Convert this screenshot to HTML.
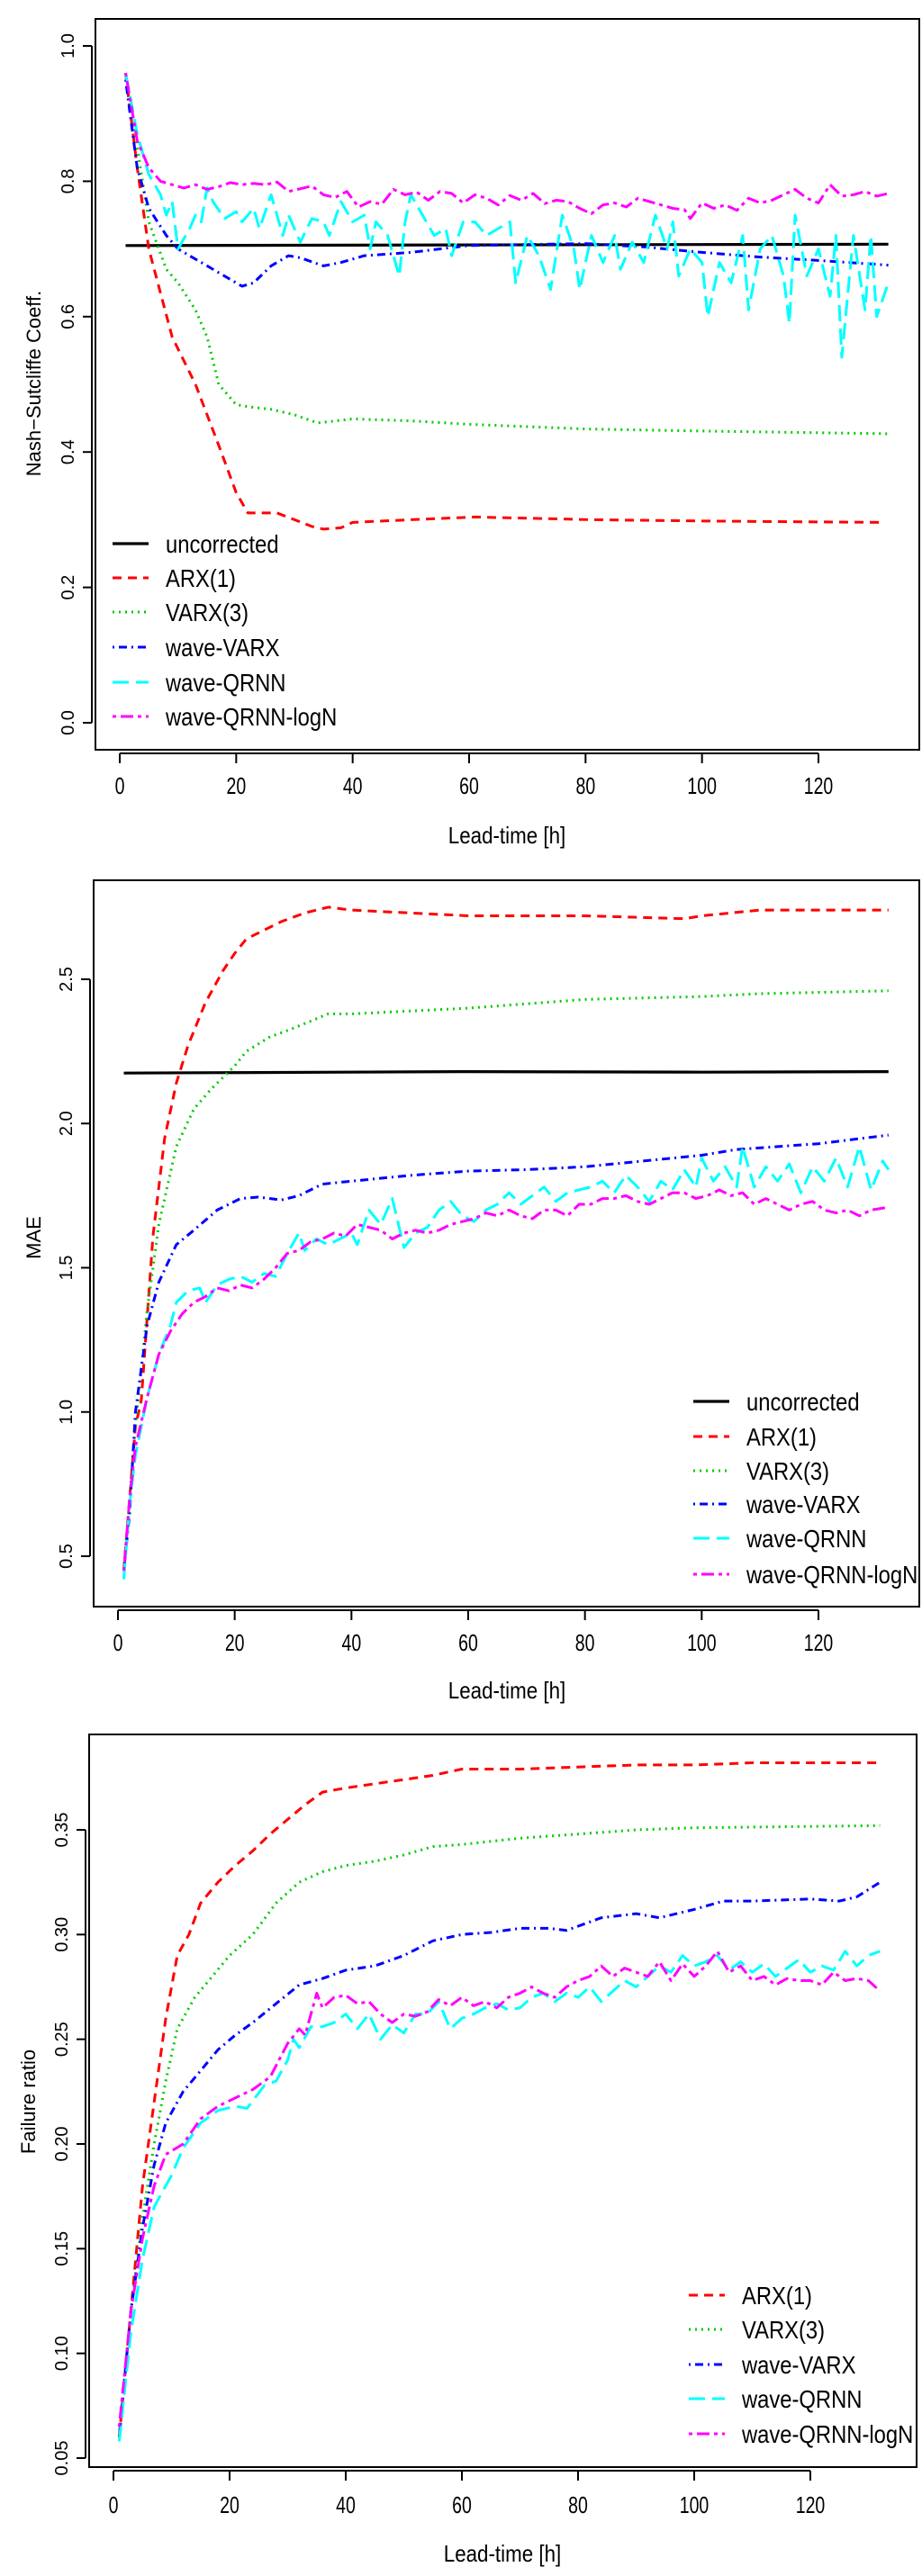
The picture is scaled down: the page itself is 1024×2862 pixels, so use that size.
<!DOCTYPE html>
<html><head><meta charset="utf-8"><style>
html,body{margin:0;padding:0;background:#fff;}
svg{display:block;}
.tk{font-family:"Liberation Sans",sans-serif;font-size:20px;fill:#000;}
.xt{font-family:"Liberation Sans Narrow","Liberation Sans",sans-serif;font-size:26px;fill:#000;}
.lg{font-family:"Liberation Sans Narrow","Liberation Sans",sans-serif;font-size:28px;fill:#000;}
.yl{font-family:"Liberation Sans",sans-serif;font-size:22px;fill:#000;}
</style></head><body>
<svg id="fig" width="1024" height="2862" viewBox="0 0 1024 2862" xmlns="http://www.w3.org/2000/svg"></svg>
<script>
// ---------- Panel 1: Nash-Sutcliffe ----------
const nseUncLead=[1,132], nseUncVal=[0.705,0.707];
const nseArxLead=[1,3,5,9,13,17,20,22,24,27,30,33,35,38,40,50,61,81,101,131];
const nseArxVal=[0.96,0.82,0.70,0.57,0.50,0.41,0.34,0.31,0.31,0.31,0.30,0.29,0.286,0.288,0.296,0.30,0.304,0.30,0.298,0.296];
const nseVarxLead=[1,5,8,10,13,15,17,20,22,26,30,34,40,50,60,80,100,132];
const nseVarxVal=[0.96,0.74,0.67,0.65,0.61,0.57,0.50,0.47,0.467,0.463,0.455,0.443,0.449,0.446,0.441,0.434,0.431,0.427];
const nseWvLead=[1,3,5,8,10,14,18,21,23,26,29,31,35,38,42,50,60,80,90,100,110,120,132];
const nseWvVal=[0.95,0.82,0.76,0.72,0.70,0.68,0.66,0.645,0.65,0.675,0.69,0.687,0.675,0.68,0.69,0.695,0.705,0.708,0.703,0.695,0.688,0.683,0.676];
const nseQLead=[1,3,5,7,8,9,10,12,13,14,15,16,18,20,21,23,24,26,28,29,31,33,35,36,38,40,42,43,44,46,48,49,50,52,54,56,57,59,61,63,65,67,68,70,72,74,76,78,79,81,83,85,86,88,90,92,94,95,96,98,100,101,103,105,107,108,110,112,114,115,116,118,120,122,123,124,126,128,129,130,132];
const nseQVal=[0.96,0.87,0.81,0.78,0.75,0.77,0.70,0.73,0.75,0.74,0.79,0.77,0.745,0.755,0.74,0.76,0.73,0.78,0.72,0.75,0.71,0.745,0.74,0.72,0.77,0.74,0.75,0.70,0.74,0.72,0.66,0.74,0.78,0.75,0.72,0.73,0.69,0.74,0.74,0.72,0.73,0.74,0.65,0.72,0.69,0.64,0.75,0.70,0.64,0.72,0.68,0.72,0.67,0.71,0.68,0.75,0.70,0.74,0.66,0.70,0.68,0.60,0.68,0.65,0.72,0.61,0.70,0.72,0.66,0.59,0.75,0.66,0.70,0.63,0.72,0.54,0.72,0.61,0.72,0.60,0.65];
const nseLLead=[1,3,5,7,9,11,13,15,17,19,21,23,25,27,29,31,33,35,37,39,41,43,45,47,49,51,53,55,57,59,61,63,65,67,69,71,73,75,77,79,81,83,85,87,89,91,93,95,97,98,100,102,104,106,108,110,112,114,116,118,120,122,124,126,128,130,132];
const nseLVal=[0.96,0.86,0.82,0.80,0.795,0.79,0.795,0.788,0.792,0.798,0.795,0.797,0.795,0.799,0.785,0.789,0.793,0.78,0.776,0.785,0.762,0.77,0.766,0.788,0.78,0.784,0.772,0.785,0.782,0.768,0.78,0.775,0.765,0.779,0.772,0.782,0.767,0.772,0.77,0.76,0.752,0.765,0.768,0.762,0.775,0.77,0.765,0.76,0.758,0.745,0.768,0.76,0.765,0.757,0.775,0.768,0.772,0.78,0.788,0.775,0.768,0.795,0.778,0.78,0.785,0.778,0.782];
const nseTicks=[0.0,0.2,0.4,0.6,0.8,1.0];
const nseTickLabels=["0.0","0.2","0.4","0.6","0.8","1.0"];

// ---------- Panel 2: MAE ----------
const maeUncLead=[1,60,100,132], maeUncVal=[2.175,2.18,2.178,2.18];
const maeArxLead=[1,2,3,4,6,8,10,12,15,18,20,22,25,28,32,36,40,50,60,80,97,100,110,132];
const maeArxVal=[0.45,0.7,0.95,1.04,1.61,1.95,2.14,2.27,2.42,2.53,2.59,2.64,2.67,2.70,2.73,2.75,2.74,2.73,2.72,2.72,2.71,2.72,2.74,2.74];
const maeVarxLead=[1,3,5,7,10,13,16,20,22,26,30,36,40,60,80,100,110,132];
const maeVarxVal=[0.45,0.95,1.35,1.65,1.92,2.05,2.12,2.2,2.25,2.30,2.33,2.38,2.38,2.40,2.43,2.44,2.45,2.46];
const maeWvLead=[1,2,3,5,7,10,13,17,21,24,28,31,35,40,50,60,70,80,90,100,106,120,132];
const maeWvVal=[0.45,0.65,1.0,1.3,1.45,1.58,1.63,1.7,1.74,1.745,1.735,1.75,1.79,1.80,1.82,1.835,1.84,1.85,1.87,1.89,1.91,1.93,1.96];
const maeQLead=[1,2,3,5,7,9,10,12,14,15,17,19,21,23,25,27,29,31,32,34,36,38,40,41,43,45,47,49,51,53,55,57,59,61,63,65,67,69,71,73,75,77,79,81,83,85,87,89,91,93,95,97,99,100,102,104,106,107,109,111,113,115,117,119,121,123,125,127,129,131,132];
const maeQVal=[0.42,0.68,0.85,1.05,1.2,1.3,1.38,1.42,1.43,1.38,1.44,1.46,1.47,1.45,1.48,1.47,1.55,1.62,1.56,1.6,1.58,1.6,1.62,1.58,1.7,1.65,1.74,1.57,1.62,1.64,1.7,1.73,1.68,1.66,1.7,1.72,1.76,1.72,1.75,1.78,1.73,1.76,1.77,1.78,1.8,1.76,1.82,1.78,1.73,1.8,1.77,1.84,1.78,1.88,1.8,1.85,1.78,1.92,1.78,1.85,1.8,1.86,1.76,1.85,1.8,1.88,1.78,1.92,1.77,1.87,1.84];
const maeLLead=[1,2,3,5,7,9,11,13,15,17,19,21,23,25,27,29,31,33,35,37,39,41,43,45,47,49,51,53,55,57,59,61,63,65,67,69,71,73,75,77,79,81,83,85,87,89,91,93,95,97,99,101,103,105,107,109,111,113,115,117,119,121,123,125,127,129,132];
const maeLVal=[0.45,0.7,0.88,1.05,1.2,1.28,1.34,1.38,1.4,1.43,1.42,1.44,1.43,1.46,1.5,1.55,1.56,1.59,1.6,1.62,1.61,1.65,1.64,1.63,1.6,1.62,1.63,1.62,1.63,1.65,1.66,1.67,1.69,1.68,1.7,1.68,1.67,1.7,1.7,1.68,1.72,1.72,1.74,1.74,1.75,1.73,1.72,1.74,1.76,1.76,1.74,1.75,1.77,1.75,1.76,1.72,1.74,1.72,1.7,1.72,1.73,1.7,1.69,1.7,1.68,1.7,1.71];
const maeTicks=[0.5,1.0,1.5,2.0,2.5];
const maeTickLabels=["0.5","1.0","1.5","2.0","2.5"];

// ---------- Panel 3: Failure ratio ----------
const frArxLead=[1,3,5,7,9,11,13,15,18,21,24,27,30,33,36,40,45,50,55,60,70,80,90,100,110,132];
const frArxVal=[0.06,0.12,0.18,0.22,0.26,0.29,0.30,0.315,0.325,0.333,0.34,0.348,0.355,0.362,0.368,0.37,0.372,0.374,0.376,0.379,0.379,0.38,0.381,0.381,0.382,0.382];
const frVarxLead=[1,3,5,7,9,11,14,17,20,24,28,32,36,40,45,50,55,60,70,80,90,100,132];
const frVarxVal=[0.06,0.12,0.165,0.2,0.23,0.255,0.27,0.28,0.29,0.30,0.315,0.325,0.33,0.333,0.335,0.338,0.342,0.343,0.346,0.348,0.35,0.351,0.352];
const frWvLead=[1,3,5,7,9,12,15,18,21,24,28,32,36,40,45,50,55,60,65,70,75,78,84,90,94,100,105,110,120,125,128,132];
const frWvVal=[0.06,0.12,0.16,0.19,0.21,0.225,0.235,0.245,0.252,0.258,0.267,0.276,0.279,0.283,0.285,0.29,0.297,0.30,0.301,0.303,0.303,0.302,0.308,0.31,0.308,0.312,0.316,0.316,0.317,0.316,0.318,0.325];
const frQLead=[1,3,5,7,10,12,15,18,21,23,26,28,30,31,32,34,36,38,40,42,44,46,48,50,52,54,56,58,60,62,64,66,68,70,72,74,76,78,80,82,84,86,88,90,92,94,96,98,100,102,104,106,108,110,112,114,116,118,120,122,124,126,128,130,132];
const frQVal=[0.058,0.11,0.145,0.17,0.185,0.198,0.21,0.216,0.218,0.217,0.228,0.23,0.24,0.25,0.246,0.256,0.256,0.258,0.262,0.255,0.262,0.25,0.257,0.253,0.262,0.262,0.268,0.255,0.26,0.262,0.265,0.267,0.264,0.265,0.27,0.272,0.268,0.272,0.27,0.275,0.268,0.273,0.278,0.275,0.28,0.285,0.282,0.29,0.285,0.287,0.29,0.283,0.287,0.282,0.286,0.28,0.284,0.288,0.282,0.285,0.283,0.292,0.285,0.29,0.292];
const frLLead=[1,3,5,7,9,12,15,18,21,24,27,30,32,33,35,36,38,40,42,44,46,48,50,52,54,56,58,60,62,64,66,68,70,72,74,76,78,80,82,84,86,88,90,92,94,96,98,100,102,104,106,108,110,112,114,116,118,120,122,124,126,128,130,132];
const frLVal=[0.065,0.12,0.155,0.18,0.195,0.2,0.212,0.218,0.222,0.226,0.232,0.248,0.255,0.252,0.272,0.265,0.27,0.271,0.267,0.268,0.262,0.258,0.262,0.261,0.263,0.269,0.266,0.27,0.266,0.268,0.265,0.27,0.272,0.275,0.272,0.27,0.275,0.278,0.28,0.285,0.28,0.284,0.282,0.28,0.287,0.278,0.286,0.28,0.285,0.292,0.282,0.285,0.278,0.28,0.276,0.279,0.278,0.278,0.276,0.282,0.278,0.279,0.278,0.273];
const frTicks=[0.05,0.10,0.15,0.20,0.25,0.30,0.35];
const frTickLabels=["0.05","0.10","0.15","0.20","0.25","0.30","0.35"];

const xTicks=[0,20,40,60,80,100,120];
const xTickLabels=["0","20","40","60","80","100","120"];

const NS="http://www.w3.org/2000/svg";
const svg=document.getElementById('fig');
function mk(tag,attrs,parent){const e=document.createElementNS(NS,tag);for(const k in attrs)e.setAttribute(k,attrs[k]);(parent||svg).appendChild(e);return e;}

const STY={
 unc:{c:'#000',d:'none',w:3.2,name:'uncorrected'},
 arx:{c:'#ff0000',d:'10,7',w:3,name:'ARX(1)'},
 varx:{c:'#00cc00',d:'2,5',w:3,name:'VARX(3)'},
 wv:{c:'#0000ff',d:'2,5,9,5',w:3,name:'wave-VARX'},
 q:{c:'#00ffff',d:'18,8',w:3,name:'wave-QRNN'},
 l:{c:'#ff00ff',d:'4,5,14,5',w:3,name:'wave-QRNN-logN'}
};

function panel(cfg){
 const g=mk('g',{});
 
 
 const X=v=>cfg.x0+(v-0)*(cfg.x120-cfg.x0)/120;
 const Y=v=>cfg.ya+(v-cfg.va)*(cfg.yb-cfg.ya)/(cfg.vb-cfg.va);
 const box=mk('rect',{x:cfg.L,y:cfg.T,width:cfg.R-cfg.L,height:cfg.B-cfg.T,fill:'none',stroke:'#000','stroke-width':2},g);
 
 
 const xa=mk('g',{},g);
 
 
 mk('line',{x1:X(0),x2:X(120),y1:cfg.B+4,y2:cfg.B+4,stroke:'#000','stroke-width':2},xa);
 xTicks.forEach((t,i)=>{
  mk('line',{x1:X(t),x2:X(t),y1:cfg.B+4,y2:cfg.B+15,stroke:'#000','stroke-width':2},xa);
  const tx=mk('text',{x:X(t),y:cfg.xtY,'text-anchor':'middle',class:'xt',transform:`translate(${X(t)},0) scale(0.75,1) translate(${-X(t)},0)`},xa);
  tx.textContent=xTickLabels[i];
  
  
 });
 const xl=mk('text',{x:cfg.xlX,y:cfg.xlY,'text-anchor':'middle',class:'xt',transform:`translate(${cfg.xlX},0) scale(0.86,1) translate(${-cfg.xlX},0)`},g);
 xl.textContent='Lead-time [h]';
 
 
 const ya=mk('g',{},g);
 
 
 mk('line',{x1:cfg.L-4,x2:cfg.L-4,y1:Y(cfg.ticks[0]),y2:Y(cfg.ticks[cfg.ticks.length-1]),stroke:'#000','stroke-width':2},ya);
 cfg.ticks.forEach((t,i)=>{
  mk('line',{x1:cfg.L-4,x2:cfg.L-14,y1:Y(t),y2:Y(t),stroke:'#000','stroke-width':2},ya);
  const tx=mk('text',{x:cfg.L-24,y:Y(t),'text-anchor':'middle',class:'tk',transform:`rotate(-90 ${cfg.L-24} ${Y(t)})`},ya);
  tx.textContent=cfg.tickLabels[i];
  
  
 });
 const yt=mk('text',{x:cfg.ylX,y:cfg.ylY,'text-anchor':'middle',class:'yl',transform:`rotate(-90 ${cfg.ylX} ${cfg.ylY})`},g);
 yt.textContent=cfg.ytitle;
 
 
 cfg.series.forEach(s=>{
  const st=STY[s.k];
  const d=s.lead.map((t,i)=>(i?'L':'M')+X(t).toFixed(1)+','+Y(s.val[i]).toFixed(1)).join(' ');
  const p=mk('path',{d:d,fill:'none',stroke:st.c,'stroke-width':st.w,'stroke-dasharray':st.d,'stroke-linejoin':'round'},g);
  
  
 });
 const lg=mk('g',{},g);
 
 
 cfg.legend.forEach((k,i)=>{
  const st=STY[k];const yy=cfg.legY[i];
  const e=mk('g',{},lg);
  
  
  mk('line',{x1:cfg.legX,x2:cfg.legX+40,y1:yy,y2:yy,stroke:st.c,'stroke-width':st.w,'stroke-dasharray':st.d},e);
  const tx=mk('text',{x:cfg.legTX,y:yy+10,class:'lg',transform:`translate(${cfg.legTX},0) scale(0.85,1) translate(${-cfg.legTX},0)`},e);
  tx.textContent=st.name;
 });
}

panel({id:'nse',L:106,R:1021,T:21,B:833,x0:133,x120:909,ya:803,va:0,yb:51,vb:1.0,
 ticks:nseTicks,tickLabels:nseTickLabels,xtY:882,xlX:563,xlY:937,ylX:45,ylY:426,ytitle:'Nash\u2212Sutcliffe Coeff.',
 series:[{k:'unc',lead:nseUncLead,val:nseUncVal},{k:'arx',lead:nseArxLead,val:nseArxVal},{k:'varx',lead:nseVarxLead,val:nseVarxVal},{k:'wv',lead:nseWvLead,val:nseWvVal},{k:'q',lead:nseQLead,val:nseQVal},{k:'l',lead:nseLLead,val:nseLVal}],
 legend:['unc','arx','varx','wv','q','l'],legX:125,legTX:184,legY:[604,642,680,719,758,796]});

panel({id:'mae',L:104,R:1021,T:978,B:1785,x0:131,x120:909,ya:1729,va:0.5,yb:1088,vb:2.5,
 ticks:maeTicks,tickLabels:maeTickLabels,xtY:1834,xlX:563,xlY:1887,ylX:45,ylY:1375,ytitle:'MAE',
 series:[{k:'unc',lead:maeUncLead,val:maeUncVal},{k:'arx',lead:maeArxLead,val:maeArxVal},{k:'varx',lead:maeVarxLead,val:maeVarxVal},{k:'wv',lead:maeWvLead,val:maeWvVal},{k:'q',lead:maeQLead,val:maeQVal},{k:'l',lead:maeLLead,val:maeLVal}],
 legend:['unc','arx','varx','wv','q','l'],legX:770,legTX:829,legY:[1557,1596,1634,1671,1709,1749]});

panel({id:'fr',L:99,R:1018,T:1927,B:2741,x0:126,x120:900,ya:2731,va:0.05,yb:2033,vb:0.35,
 ticks:frTicks,tickLabels:frTickLabels,xtY:2792,xlX:558,xlY:2846,ylX:39,ylY:2335,ytitle:'Failure ratio',
 series:[{k:'arx',lead:frArxLead,val:frArxVal},{k:'varx',lead:frVarxLead,val:frVarxVal},{k:'wv',lead:frWvLead,val:frWvVal},{k:'q',lead:frQLead,val:frQVal},{k:'l',lead:frLLead,val:frLVal}],
 legend:['arx','varx','wv','q','l'],legX:765,legTX:824,legY:[2550,2588,2627,2665,2704]});
</script>
</body></html>
